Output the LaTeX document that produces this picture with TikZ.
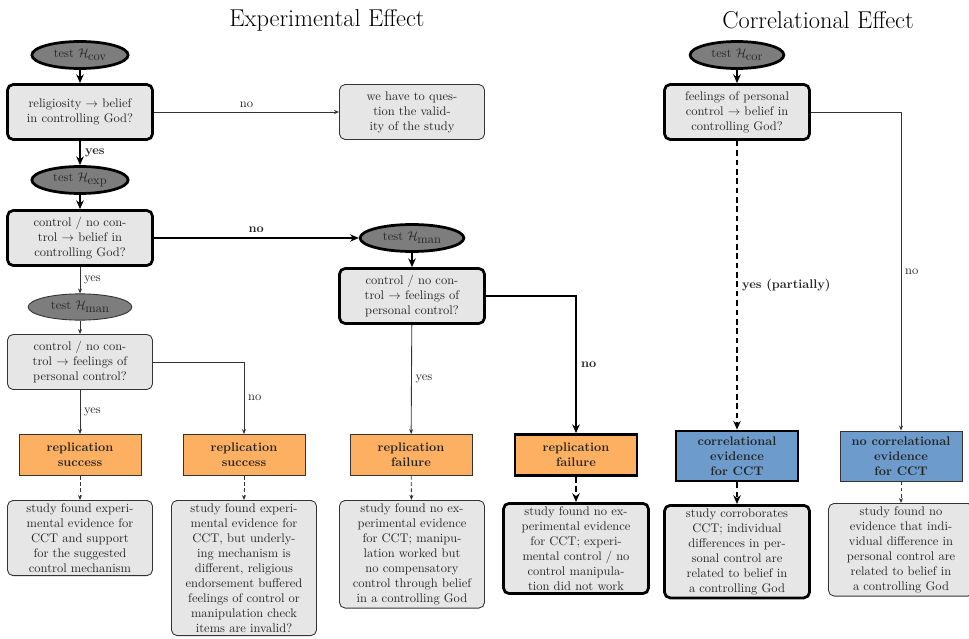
\documentclass[tikz,border=0pt]{standalone}
\usetikzlibrary{shapes.geometric,arrows.meta}
\definecolor{boxgray}{HTML}{E6E6E6}
\definecolor{ellgray}{HTML}{7D7D7D}
\definecolor{repor}{HTML}{FDB062}
\definecolor{corblue}{HTML}{6C9BCC}
\definecolor{thindraw}{HTML}{333333}
\newcommand{\hyp}[1]{$\mathcal{H}$\kern-0.5pt\raisebox{-2pt}{#1}}
\begin{document}
\begin{tikzpicture}[x=0.8pt,y=-0.8pt,
  thinl/.style={line width=0.7pt, draw=thindraw},
  thickl/.style={line width=2.2pt, draw=black},
  thinarrow/.style={thinl, -{Stealth[length=4pt,width=3.2pt]}},
  thickarrow/.style={thickl, -{Stealth[length=7pt,width=6pt]}},
  thindash/.style={dash pattern=on 3pt off 2pt},
  thickdash/.style={dash pattern=on 4.5pt off 3pt},
  ell/.style={ellipse, fill=ellgray, minimum width=77pt, minimum height=21.6pt, inner sep=0pt, text=black!85},
  q/.style={rounded corners=4.5pt, fill=boxgray, align=center, minimum width=116pt, minimum height=44pt, inner sep=2.5pt, text=black!85},
  rep/.style={fill=repor, align=center, minimum width=97.6pt, minimum height=32.8pt, inner sep=2pt, font=\bfseries, text=black!85},
  cor/.style={fill=corblue, align=center, minimum width=97.6pt, minimum height=40pt, inner sep=2pt, font=\bfseries, text=black!85},
  lab/.style={text=black!85, inner sep=3pt},
  blab/.style={lab, font=\bfseries},
  ttl/.style={font=\fontsize{19.5}{24}\selectfont}
]
\useasboundingbox (0,0) rectangle (969,639);

% titles
\node[ttl] (t1) at (327,20) {Experimental Effect};
\node[ttl] (t2) at (818,20) {Correlational Effect};

% experimental effect
\node[ell, thickl] (hcov) at (80,55) {test \hyp{cov}};
\node[q, thickl] (q1) at (80,112) {religiosity $\rightarrow$ belief\\in controlling God?};
\node[q, thinl] (valid) at (412,112) {we have to ques-\\tion the valid-\\ity of the study};
\node[ell, thickl] (hexp) at (80,180) {test \hyp{exp}};
\node[q, thickl] (q2) at (80,238) {control / no con-\\trol $\rightarrow$ belief in\\controlling God?};
\node[ell, thickl, minimum width=83pt] (hman2) at (412,238) {test \hyp{man}};
\node[q, thickl] (q3) at (412,296) {control / no con-\\trol $\rightarrow$ feelings of\\personal control?};
\node[ell, thinl, minimum width=83pt, minimum height=21pt] (hman1) at (80,307) {test \hyp{man}};
\node[q, thinl] (q4) at (80,362) {control / no con-\\trol $\rightarrow$ feelings of\\personal control?};

\node[rep, thinl] (r1) at (80,455) {replication\\success};
\node[rep, thinl] (r2) at (244,455) {replication\\success};
\node[rep, thinl] (r3) at (411,455) {replication\\failure};
\node[rep, thickl] (r4) at (576,455) {replication\\failure};

\node[q, thinl, anchor=north] (d1) at (80,500) {study found experi-\\mental evidence for\\CCT and support\\for the suggested\\control mechanism};
\node[q, thinl, anchor=north] (d2) at (244,500) {study found experi-\\mental evidence for\\CCT, but underly-\\ing mechanism is\\different, religious\\endorsement buffered\\feelings of control or\\manipulation check\\items are invalid?};
\node[q, thinl, anchor=north] (d3) at (412,500) {study found no ex-\\perimental evidence\\for CCT; manipu-\\lation worked but\\no compensatory\\control through belief\\in a controlling God};
\node[q, thickl, anchor=north] (d4) at (576,502) {study found no ex-\\perimental evidence\\for CCT; experi-\\mental control / no\\control manipula-\\tion did not work};

% correlational effect
\node[ell, thickl, minimum width=75pt] (hcor) at (737,55) {test \hyp{cor}};
\node[q, thickl] (qc) at (737,112) {feelings of personal\\control $\rightarrow$ belief in\\controlling God?};
\node[cor, thickl] (b1) at (737,456) {correlational\\evidence\\for CCT};
\node[cor, thinl] (b2) at (901,456) {no correlational\\evidence\\for CCT};
\node[q, thickl, anchor=north] (dc1) at (737,504) {study corroborates\\CCT; individual\\differences in per-\\sonal control are\\related to belief in\\a controlling God};
\node[q, thinl, anchor=north] (dc2) at (901,503) {study found no\\evidence that indi-\\vidual difference in\\personal control are\\related to belief in\\a controlling God};

% connectors
\draw[thickarrow] (hcov) -- (q1);
\draw[thinarrow] (q1) -- node[lab, above] {no} (valid);
\draw[thickarrow] (q1) -- node[blab, right] {yes} (hexp);
\draw[thickarrow] (hexp) -- (q2);
\draw[thickarrow] (q2) -- node[blab, above] {no} (hman2);
\draw[thickarrow] (hman2) -- (q3);
\draw[thinarrow] (q2) -- node[lab, right] {yes} (hman1);
\draw[thinarrow] (hman1) -- (q4);
\draw[thinarrow] (q4) -- node[lab, right] {yes} (r1);
\draw[thinarrow] (q4.east) -| node[lab, pos=0.75, right] {no} (r2);
\draw[thinarrow] (q3) -- node[lab, right] {yes} (r3);
\draw[thickarrow] (q3.east) -| node[blab, pos=0.75, right] {no} (r4);
\draw[thinarrow, thindash] (r1) -- (d1);
\draw[thinarrow, thindash] (r2) -- (d2);
\draw[thinarrow, thindash] (r3) -- (d3);
\draw[thickarrow, thickdash] (r4) -- (d4);

\draw[thickarrow] (hcor) -- (qc);
\draw[thickarrow, thickdash] (qc) -- node[blab, right] {yes (partially)} (b1);
\draw[thinarrow] (qc.east) -| node[lab, pos=0.75, right] {no} (b2);
\draw[thickarrow, thickdash] (b1) -- (dc1);
\draw[thinarrow, thindash] (b2) -- (dc2);
\end{tikzpicture}
\end{document}
